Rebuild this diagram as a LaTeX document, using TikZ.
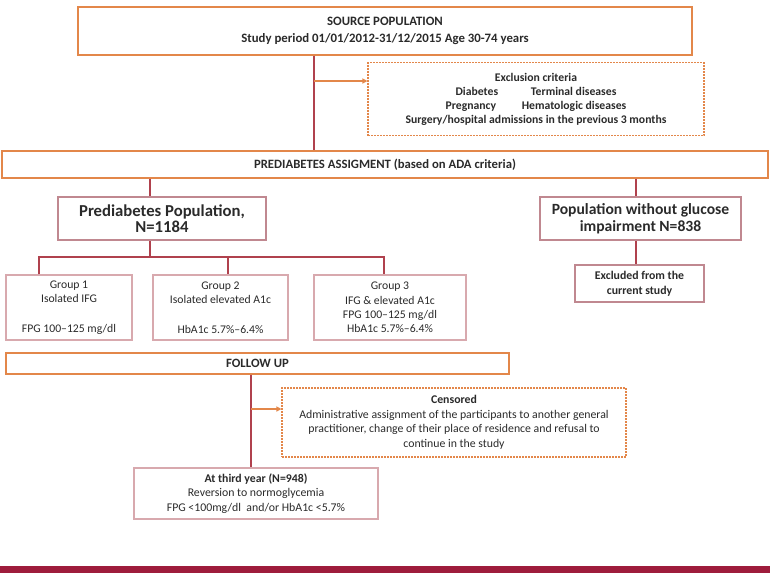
\documentclass[tikz,border=0pt]{standalone}
\usepackage{fontspec}
\setmainfont{Carlito}
\usetikzlibrary{arrows.meta}
\definecolor{orangeb}{HTML}{E3874A}
\definecolor{linered}{HTML}{B0414D}
\definecolor{popb}{HTML}{C08890}
\definecolor{grpb}{HTML}{D8A9AE}
\definecolor{barc}{HTML}{9E1C3C}
\definecolor{txt}{HTML}{2A2A2A}
\begin{document}
\begin{tikzpicture}[x=1pt,y=-1pt,
  box/.style={draw, rectangle, inner sep=0pt, align=center, text=txt, font=\fontsize{11.7}{14.2}\selectfont},
  obox/.style={box, draw=orangeb, line width=1.3pt},
  dbox/.style={box, draw=orangeb, line width=1.1pt, dash pattern=on 2pt off 1pt},
  pbox/.style={box, draw=popb, line width=2pt},
  gbox/.style={box, draw=grpb, line width=1.2pt},
  conn/.style={draw=linered, line width=1.3pt},
  arr/.style={draw=orangeb, line width=1.2pt, -{Triangle[length=5pt,width=5pt]}}
]
\useasboundingbox (0,0) rectangle (770,576);
\node[obox, minimum width=614pt, minimum height=48pt, font=\bfseries\fontsize{12.8}{17}\selectfont] (src) at (385,31) {SOURCE POPULATION\\Study period 01/01/2012-31/12/2015 Age 30-74 years};
\node[dbox, minimum width=336pt, minimum height=73pt, font=\bfseries\fontsize{11.7}{14}\selectfont] (excl) at (536,99) {Exclusion criteria\\Diabetes\hspace{2.8em}Terminal diseases\\Pregnancy\hspace{2.2em}Hematologic diseases\\Surgery/hospital admissions in the previous 3 months};
\node[obox, minimum width=766pt, minimum height=27pt, font=\bfseries\fontsize{12.7}{14}\selectfont] (pa) at (385,164.5) {PREDIABETES ASSIGMENT (based on ADA criteria)};
\node[pbox, minimum width=208pt, minimum height=43pt, font=\bfseries\fontsize{16.7}{16.5}\selectfont] (pop) at (162,218.5) {Prediabetes Population,\\N=1184};
\node[pbox, minimum width=201pt, minimum height=43pt, font=\bfseries\fontsize{15.6}{16.5}\selectfont] (pop2) at (640.5,218.5) {Population without glucose\\impairment N=838};
\node[gbox, minimum width=126pt, minimum height=65pt] (g1) at (69,307.5) {Group 1\\Isolated IFG\\[16pt]FPG 100–125 mg/dl};
\node[gbox, minimum width=135pt, minimum height=65pt] (g2) at (220.5,307.5) {Group 2\\Isolated elevated A1c\\[16pt]HbA1c 5.7\%–6.4\%};
\node[gbox, minimum width=152pt, minimum height=65pt] (g3) at (390,307.5) {Group 3\\IFG \& elevated A1c\\FPG 100–125 mg/dl\\HbA1c 5.7\%–6.4\%};
\node[pbox, line width=1.6pt, minimum width=129pt, minimum height=37pt, font=\bfseries\fontsize{11.8}{15}\selectfont] (exd) at (639.5,283.5) {Excluded from the\\current study};
\node[obox, minimum width=503pt, minimum height=21pt, font=\bfseries\fontsize{12.7}{14}\selectfont] (fu) at (257.5,363.5) {FOLLOW UP};
\node[dbox, minimum width=344pt, minimum height=69pt, font=\fontsize{11.8}{14.5}\selectfont] (cens) at (454,422.5) {\textbf{Censored}\\Administrative assignment of the participants to another general\\practitioner, change of their place of residence and refusal to\\continue in the study};
\node[gbox, minimum width=244pt, minimum height=51pt, font=\fontsize{11.8}{14.5}\selectfont] (third) at (256,493.5) {\textbf{At third year (N=948)}\\Reversion to normoglycemia\\FPG <100mg/dl\ \ and/or HbA1c <5.7\%};
\fill[barc] (0,566) rectangle (770,573);
% connectors
\draw[conn] (src.south -| 314,0) -- (pa.north -| 314,0);
\coordinate (ea) at (314,81);
\draw[arr] (ea) -- (excl.west |- ea);
\draw[conn] (pa.south -| 150,0) -- (pop.north -| 150,0);
\draw[conn] (pa.south -| 636,0) -- (pop2.north -| 636,0);
\draw[conn] (pop2.south -| 636,0) -- (exd.north -| 636,0);
\coordinate (hb) at (150,257);
\draw[conn] (pop.south -| hb) -- (hb);
\draw[conn] (g1.north -| 39,0) -- (39,257) -- (384,257) -- (g3.north -| 384,0);
\draw[conn] (hb -| 228,0) -- (g2.north -| 228,0);
\draw[conn] (fu.south -| 251,0) -- (third.north -| 251,0);
\coordinate (ca) at (251,409);
\draw[arr] (ca) -- (cens.west |- ca);
\end{tikzpicture}
\end{document}
